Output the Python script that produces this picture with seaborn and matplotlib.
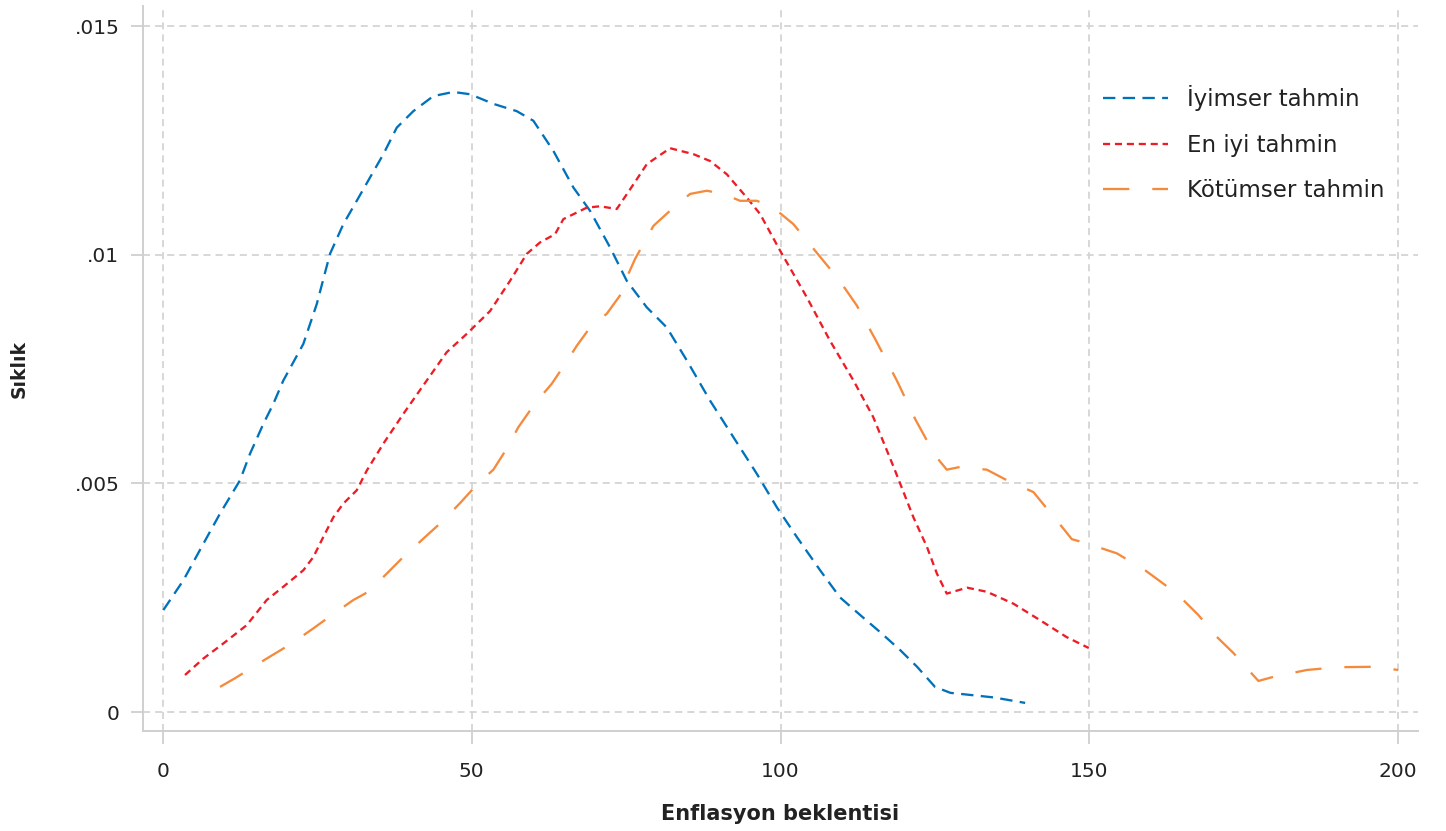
import matplotlib
matplotlib.use("Agg")
import matplotlib.pyplot as plt
import seaborn as sns
import pandas as pd

# ---- data ----
iyimser_x = [0.05, 3.29, 6.53, 9.23, 12.47, 14.09, 16.24, 17.86, 19.48, 22.72, 24.89, 27.04, 29.2, 31.37,
             33.52, 35.68, 37.85, 40.53, 43.77, 47.01, 49.72, 53.49, 57.28, 59.97, 63.21, 66.45, 69.15,
             72.39, 75.09, 78.33, 81.57, 84.81, 88.58, 92.36, 96.15, 99.38, 102.62, 106.4, 109.6, 112.9,
             116.1, 119.4, 122.1, 125.0, 127.5, 134.5, 139.6]
iyimser_y = [0.00223, 0.00288, 0.00368, 0.00434, 0.00507, 0.00565, 0.00630, 0.00674, 0.00725, 0.00805,
             0.00892, 0.01002, 0.01067, 0.01118, 0.01169, 0.01220, 0.01278, 0.01314, 0.01347, 0.01356,
             0.01351, 0.01330, 0.01314, 0.01293, 0.01227, 0.01147, 0.01096, 0.01016, 0.00943, 0.00885,
             0.00841, 0.00769, 0.00681, 0.00601, 0.00521, 0.00448, 0.00383, 0.00310, 0.00251, 0.00212,
             0.00175, 0.00135, 0.00099, 0.00055, 0.00042, 0.00032, 0.00020]

eniyi_x = [3.56, 6.53, 9.77, 13.55, 16.79, 19.48, 22.72, 24.34, 25.96, 27.58, 29.2, 31.37, 32.99, 35.68,
           38.91, 42.70, 45.94, 49.18, 52.96, 56.19, 58.90, 61.05, 63.48, 64.83, 68.61, 70.77, 73.47,
           75.63, 78.33, 82.1, 85.88, 88.58, 91.29, 94.53, 96.68, 99.92, 104.24, 108.0, 111.8, 115.0,
           118.3, 121.5, 123.7, 125.3, 126.9, 130.2, 133.4, 137.7, 142.0, 146.3, 149.9]
eniyi_y = [0.00081, 0.00117, 0.00150, 0.00190, 0.00245, 0.00274, 0.00310, 0.00339, 0.00383, 0.00426,
           0.00456, 0.00485, 0.00528, 0.00587, 0.00652, 0.00725, 0.00787, 0.00827, 0.00877, 0.00943,
           0.01002, 0.01027, 0.01045, 0.01078, 0.01103, 0.01106, 0.01100, 0.01143, 0.01198, 0.01233,
           0.01220, 0.01205, 0.01176, 0.01125, 0.01089, 0.01009, 0.00907, 0.00812, 0.00725, 0.00645,
           0.00536, 0.00426, 0.00361, 0.00303, 0.00259, 0.00272, 0.00263, 0.00237, 0.00201, 0.00164,
           0.00140]

kotumser_x = [9.23, 11.66, 16.79, 20.84, 24.34, 27.32, 30.82, 32.71, 34.33, 38.38, 41.89, 45.39, 48.10,
              50.80, 53.49, 55.66, 57.54, 60.24, 62.95, 65.10, 67.00, 69.15, 71.85, 74.54, 75.35, 76.44,
              79.40, 82.64, 85.34, 88.05, 90.74, 93.44, 96.15, 98.83, 102.07, 104.24, 106.67, 109.36,
              112.34, 115.30, 118.82, 121.78, 125.02, 126.91, 129.07, 133.39, 136.63, 140.94, 143.11,
              145.80, 147.16, 149.31, 154.45, 159.03, 164.16, 167.66, 170.36, 173.33, 176.03, 177.37,
              179.80, 185.21, 190.07, 196.0, 200.0]
kotumser_y = [0.00055, 0.00074, 0.00117, 0.00150, 0.00183, 0.00212, 0.00245, 0.00259, 0.00277, 0.00332,
              0.00376, 0.00419, 0.00457, 0.00497, 0.00530, 0.00576, 0.00623, 0.00675, 0.00718, 0.00761,
              0.00801, 0.00841, 0.00871, 0.00921, 0.00958, 0.00991, 0.01063, 0.01103, 0.01133, 0.01140,
              0.01133, 0.01118, 0.01118, 0.01103, 0.01067, 0.01031, 0.00991, 0.00947, 0.00889, 0.00816,
              0.00725, 0.00641, 0.00561, 0.00530, 0.00536, 0.00530, 0.00507, 0.00481, 0.00445, 0.00401,
              0.00378, 0.00370, 0.00347, 0.00310, 0.00259, 0.00212, 0.00168, 0.00129, 0.00088, 0.00068,
              0.00077, 0.00092, 0.00098, 0.00099, 0.00092]

series_names = ["İyimser tahmin", "En iyi tahmin", "Kötümser tahmin"]
x_ticks = [0, 50, 100, 150, 200]
y_ticks = [0, 0.005, 0.01, 0.015]
y_tick_labels = ["0", ".005", ".01", ".015"]

# ---- style ----
sns.set_theme(style="white")
plt.rcParams["font.family"] = ["DejaVu Sans"]

colors = ["#0071BB", "#EE1C25", "#F58A3C"]
dash_styles = [(0, (5.4, 3.2)), (0, (3.1, 2.1)), (0, (11.5, 10.0))]

fig = plt.figure(figsize=(14.46, 8.31), dpi=100)
ax = fig.add_axes([0.0989, 0.1203, 0.8817, 0.8725])

for name, xs, ys, c, ls in zip(series_names,
                               [iyimser_x, eniyi_x, kotumser_x],
                               [iyimser_y, eniyi_y, kotumser_y],
                               colors, dash_styles):
    df = pd.DataFrame({"x": xs, "y": ys})
    sns.lineplot(data=df, x="x", y="y", ax=ax, color=c, linewidth=1.65,
                 linestyle=ls, label=name, sort=False)

ax.set_xlim(-3.24, 203.2)
ax.set_ylim(-0.000415, 0.01544)
ax.set_xticks(x_ticks)
ax.set_xticklabels([str(t) for t in x_ticks])
ax.set_yticks(y_ticks)
ax.set_yticklabels(y_tick_labels)

ax.grid(True, color="#d4d4d4", linestyle=(0, (3.9, 2.8)), linewidth=1.3)
for s in ["top", "right"]:
    ax.spines[s].set_visible(False)
for s in ["left", "bottom"]:
    ax.spines[s].set_color("#cfcfcf")
    ax.spines[s].set_linewidth(1.4)

ax.tick_params(axis="both", which="major", direction="out", length=9, width=1.3,
               color="#cfcfcf", labelsize=14.5, labelcolor="#222222",
               bottom=True, left=True)
ax.tick_params(axis="x", pad=13)
ax.tick_params(axis="y", pad=8)

ax.set_xlabel("Enflasyon beklentisi", fontsize=15, fontweight="bold", color="#222222", labelpad=17)
ax.set_ylabel("Sıklık", fontsize=13.5, fontweight="bold", color="#222222")
ax.yaxis.set_label_coords(-0.090, 0.5)

leg = ax.legend(loc="upper left", bbox_to_anchor=(0.753, 0.891), frameon=False, fontsize=16.5,
                handlelength=2.85, handletextpad=0.83, labelspacing=0.99, borderaxespad=0,
                borderpad=0)
for t in leg.get_texts():
    t.set_color("#222222")

fig.savefig("out.png", dpi=100)
